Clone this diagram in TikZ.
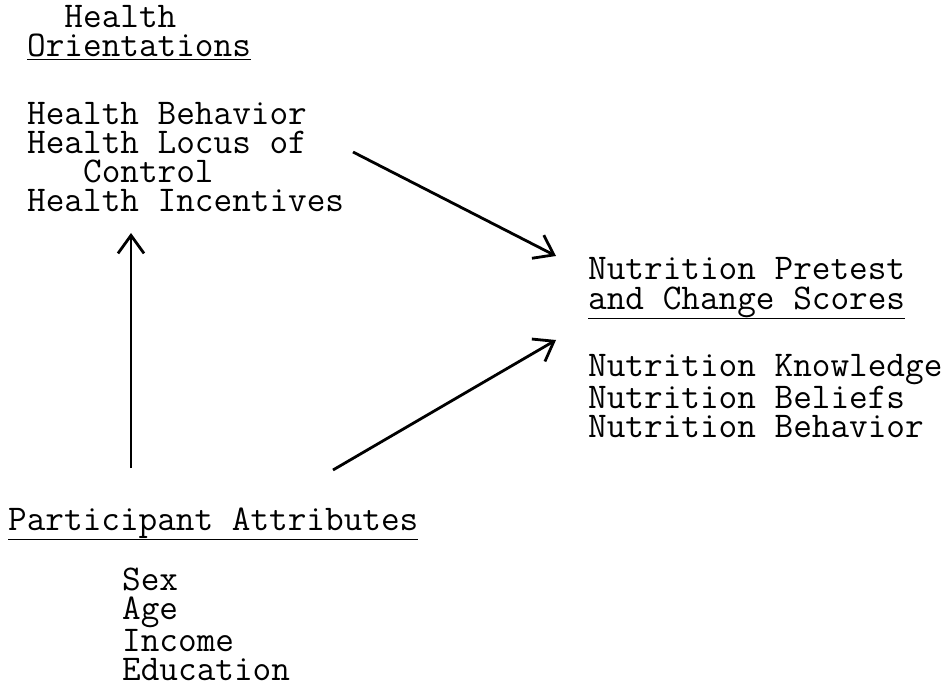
\documentclass[tikz,border=0pt]{standalone}
\usepackage{fontspec}
\usetikzlibrary{arrows.meta,positioning}

\begin{document}
\begin{tikzpicture}[x=1pt,y=1pt]
\tikzstyle{every node}+=[inner sep=0pt, anchor=base west, align=left, font=\ttfamily\fontsize{36.2}{29}\selectfont]
\tikzstyle{link}=[line width=2.8pt, -{Straight Barb[length=18pt,width=26pt]}]
\useasboundingbox (0,0) rectangle (946,-687);
% health orientations
\node (htitle) at (27,-57) {\phantom{He}Health\\\underline{Orientations}};
\node (hlist) at (27,-212) {Health Behavior\\Health Locus of\\\phantom{Hea}Control\\Health Incentives};
% nutrition scores
\node (ntitle) at (588,-309) {Nutrition Pretest\\\underline{and Change Scores}};
\node (nlist) at (588,-437) {Nutrition Knowledge\\Nutrition Beliefs\\Nutrition Behavior};
% participant attributes
\node (ptitle) at (8,-530) {\underline{Participant Attributes}};
\node (plist) at (122,-680) {Sex\\Age\\Income\\Education};
% arrow ends
\coordinate (hout) at (353,-152);
\coordinate (nin1) at (556,-256);
\coordinate (pout1) at (333,-470);
\coordinate (nin2) at (556,-340);
\coordinate (pout2) at (131,-468);
\coordinate (hin) at (131,-233);
\draw [link] (hout) -- (nin1);
\draw [link] (pout1) -- (nin2);
\draw [link] (pout2) -- (hin);
\end{tikzpicture}
\end{document}
